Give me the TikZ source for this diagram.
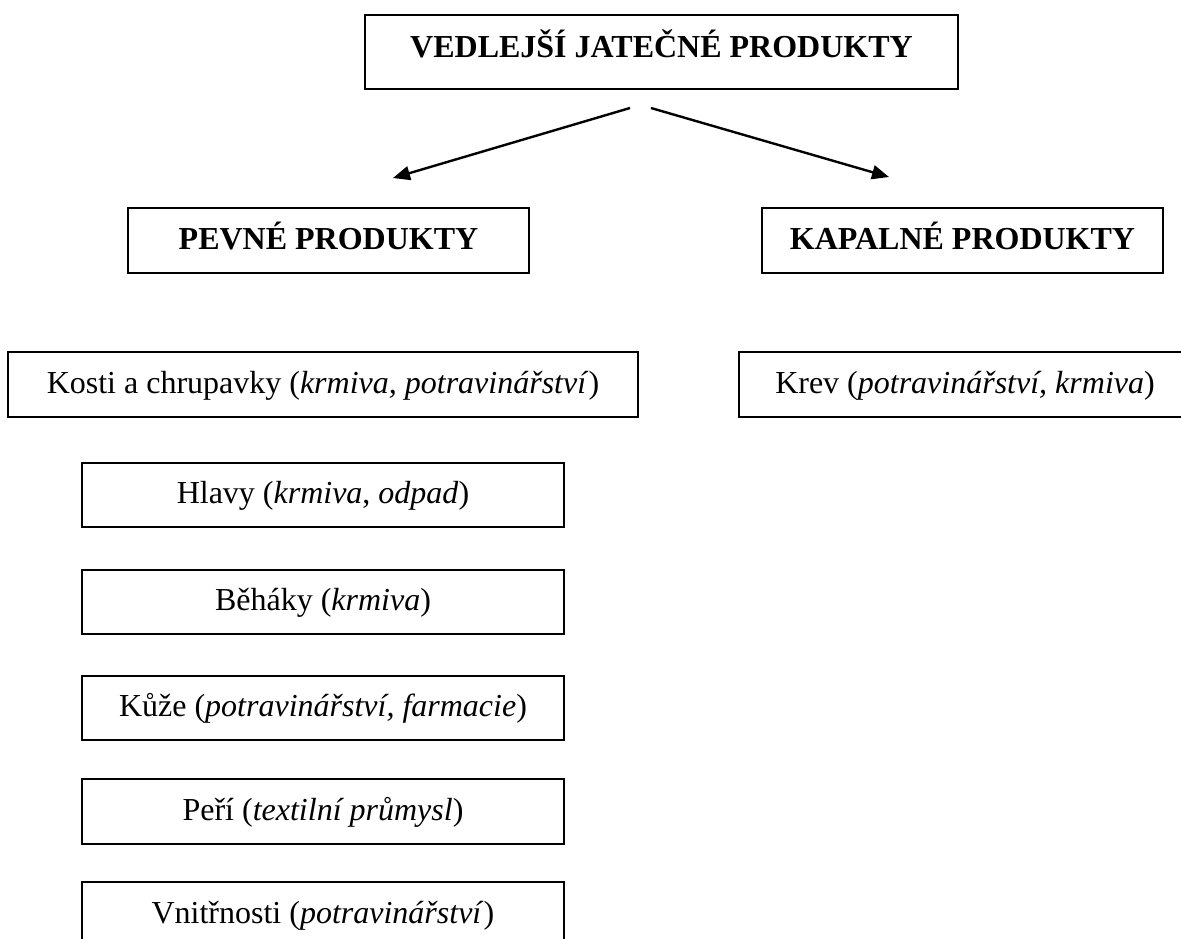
\documentclass[tikz,border=0pt]{standalone}
\usepackage{fontspec}
\setmainfont{Liberation Serif}
\usetikzlibrary{arrows.meta}
\begin{document}
\begin{tikzpicture}[x=1pt,y=-1pt,
  box/.style={draw, line width=2pt, rectangle, inner sep=0pt,
    text height=21pt, text depth=4pt, minimum height=65pt,
    font=\fontsize{32pt}{38pt}\selectfont},
  arr/.style={line width=2.4pt, -{Triangle[length=17pt,width=14pt]}}]
\fill[white] (0,0) rectangle (1181,938);
\useasboundingbox (0,0) rectangle (1181,938);
\node[box, minimum width=593pt, minimum height=74pt, text depth=11pt] (top) at (661.5,52) {\textbf{VEDLEJŠÍ JATEČNÉ PRODUKTY}};
\node[box, minimum width=401pt] (pev) at (328.5,240.5) {\textbf{PEVNÉ PRODUKTY}};
\node[box, minimum width=401pt] (kap) at (962.5,240.5) {\textbf{KAPALNÉ PRODUKTY}};
\node[box, minimum width=630pt] (kosti) at (323,384.5) {Kosti a chrupavky (\textit{krmiva, potravinářství})};
\node[box, minimum width=452pt] (krev) at (965,384.5) {Krev (\textit{potravinářství, krmiva})};
\node[box, minimum width=482pt, minimum height=64pt] (hlavy) at (323,495) {Hlavy (\textit{krmiva}, \textit{odpad})};
\node[box, minimum width=482pt, minimum height=64pt] (behaky) at (323,602) {Běháky (\textit{krmiva})};
\node[box, minimum width=482pt, minimum height=64pt] (kuze) at (323,708) {Kůže (\textit{potravinářství, farmacie})};
\node[box, minimum width=482pt] (peri) at (323,811.5) {Peří (\textit{textilní průmysl})};
\node[box, minimum width=482pt] (vnit) at (323,914.5) {Vnitřnosti (\textit{potravinářství})};
\coordinate (ls) at (630,108);
\coordinate (le) at (393,178);
\coordinate (rs) at (651,108);
\coordinate (re) at (889,177);
\draw[arr] (ls) -- (le);
\draw[arr] (rs) -- (re);
\end{tikzpicture}
\end{document}
